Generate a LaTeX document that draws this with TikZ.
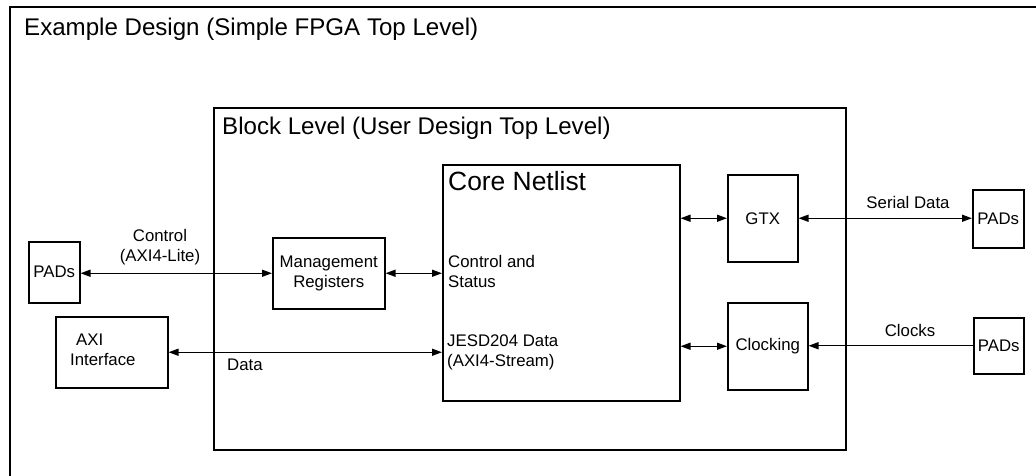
\documentclass[tikz,border=0pt]{standalone}
\usepackage{fontspec}
\setmainfont{Liberation Sans}
\usetikzlibrary{arrows.meta}
\begin{document}
\begin{tikzpicture}[x=1pt,y=-1pt,
  >={Triangle[length=10pt,width=7pt]},
  bigframe/.style={draw,line width=2pt,inner sep=0pt,anchor=north west},
  corebox/.style={draw,line width=1.5pt,inner sep=0pt,anchor=north west},
  box/.style={draw,line width=1.5pt,inner sep=0pt,anchor=north west,align=center,
    font=\fontsize{16.8}{20}\selectfont},
  lbl/.style={inner sep=0pt,font=\fontsize{16.8}{20}\selectfont},
  headline/.style={inner sep=0pt,anchor=base west,font=\fontsize{24.1}{28}\selectfont},
  coreline/.style={inner sep=0pt,anchor=base west,font=\fontsize{26.4}{30}\selectfont},
  biarrow/.style={line width=1.4pt,<->},
  uniarrow/.style={line width=1.4pt,->}]
\useasboundingbox (0,0) rectangle (1036,476);

% outer frame (open to the right and bottom)
\draw[line width=2pt] (10,478) |- (1038,7);
\node[headline] (extitle) at (24,36) {Example Design (Simple FPGA Top Level)};

% block level and core netlist
\node[bigframe,minimum width=632pt,minimum height=342pt] (block) at (213,107) {};
\node[headline] (blocktitle) at (222,135) {Block Level (User Design Top Level)};
\node[corebox,minimum width=237pt,minimum height=236pt] (core) at (442,164) {};
\node[coreline] (coretitle) at (448,190) {Core Netlist};
\node[lbl,anchor=base west] (ctrlstat) at (448,267)
  {\begin{tabular}[t]{@{}l@{}}Control and\\Status\end{tabular}};
\node[lbl,anchor=base west] (jesd) at (447,346)
  {\begin{tabular}[t]{@{}l@{}}JESD204 Data\\(AXI4-Stream)\end{tabular}};

% left side blocks
\node[box,minimum width=51pt,minimum height=61pt] (padsl) at (28,241) {PADs};
\node[box,minimum width=112pt,minimum height=71pt] (mgmt) at (272,237) {Management\\Registers};
\node[box,minimum width=112pt,minimum height=71pt] (axi) at (55,316) {};
\node[lbl,anchor=base west] (axitext) at (70,345)
  {\begin{tabular}[t]{@{}l@{}}\hspace*{6pt}AXI\\Interface\end{tabular}};

% right side blocks
\node[box,minimum width=70pt,minimum height=87pt] (gtx) at (727,174) {GTX};
\node[box,minimum width=80pt,minimum height=87pt] (clk) at (727,302) {Clocking};
\node[box,minimum width=51pt,minimum height=58pt] (padsr1) at (972,189) {PADs};
\node[box,minimum width=50pt,minimum height=56pt] (padsr2) at (973,317) {PADs};

% connectors
\draw[biarrow] (mgmt.west -| padsl.east) -- (mgmt.west);
\draw[biarrow] (mgmt.east) -- (mgmt.east -| core.west);
\draw[biarrow] (axi.east) -- (axi.east -| core.west);
\draw[biarrow] (gtx.west -| core.east) -- (gtx.west);
\draw[biarrow] (gtx.east) -- (gtx.east -| padsr1.west);
\draw[biarrow] (clk.west -| core.east) -- (clk.west);
\draw[uniarrow] (padsr2.west) -- (padsr2.west -| clk.east);

% connector labels
\node[lbl,anchor=base] (ctrllbl) at (160,241)
  {\begin{tabular}[t]{@{}c@{}}Control\\(AXI4-Lite)\end{tabular}};
\node[lbl,anchor=base west] (datalbl) at (227,370) {Data};
\node[lbl,anchor=base] (seriallbl) at (908,208) {Serial Data};
\node[lbl,anchor=base] (clockslbl) at (910,336) {Clocks};
\end{tikzpicture}
\end{document}
